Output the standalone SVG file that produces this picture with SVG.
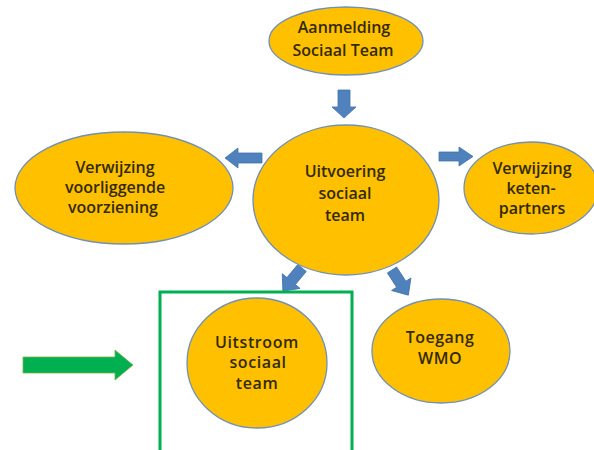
<svg xmlns="http://www.w3.org/2000/svg" width="594" height="450" viewBox="0 0 594 450">
  <defs>
    <style>
      .node { fill: #FFC000; stroke: #7190b4; stroke-width: 1.3; }
      .lbl { font-family: "Open Sans", "Liberation Sans", sans-serif; font-weight: 600; font-size: 16px; fill: #332a00; text-anchor: middle; }
      .arrow { fill: #4f81bd; stroke: #4373aa; stroke-width: 0.8; }
      .green { fill: #00b050; stroke: #7fb048; stroke-width: 0.8; }
    </style>
    <path id="diag" d="M0,-5.5 L17,-5.5 L17,-11.5 L30,0 L17,11.5 L17,5.5 L0,5.5 Z"/>
  </defs>
  <rect width="594" height="450" fill="#ffffff"/>

  <g id="connectors">
    <polygon class="arrow" points="338,90 350,90 350,107 356,107 344,118 332,107 338,107"/>
    <polygon class="arrow" points="262,153 262,163 238,163 238,168 225,158 238,148 238,153"/>
    <polygon class="arrow" points="439,152 459,152 459,147 473,156.5 459,166 459,161 439,161"/>
    <use href="#diag" class="arrow" transform="translate(302,268) rotate(129.6)"/>
    <use href="#diag" class="arrow" transform="translate(392,270) rotate(57)"/>
  </g>

  <g id="aanmelding">
    <ellipse class="node" cx="346" cy="41" rx="77" ry="34"/>
    <text class="lbl" x="344" y="33" font-size="16.5">Aanmelding</text>
    <text class="lbl" x="343" y="56" font-size="16.5">Sociaal Team</text>
  </g>

  <g id="uitvoering">
    <ellipse class="node" cx="346" cy="200" rx="93" ry="75"/>
    <text class="lbl" x="345" y="177" font-size="17">Uitvoering</text>
    <text class="lbl" x="345" y="199" font-size="17">sociaal</text>
    <text class="lbl" x="345" y="221" font-size="17">team</text>
  </g>

  <g id="verwijzing-voorliggende">
    <ellipse class="node" cx="124" cy="188" rx="109" ry="56"/>
    <text class="lbl" x="115" y="173" font-size="15.5">Verwijzing</text>
    <text class="lbl" x="115" y="193" font-size="15.5">voorliggende</text>
    <text class="lbl" x="113" y="213" font-size="15.5">voorziening</text>
  </g>

  <g id="verwijzing-ketenpartners">
    <ellipse class="node" cx="531" cy="188" rx="67" ry="46"/>
    <text class="lbl" x="532" y="174" font-size="15.5">Verwijzing</text>
    <text class="lbl" x="531" y="194" font-size="15.5">keten-</text>
    <text class="lbl" x="532" y="214" font-size="15.5">partners</text>
  </g>

  <g id="uitstroom">
    <ellipse class="node" cx="257" cy="363" rx="70" ry="65"/>
    <text class="lbl" x="257" y="348" font-size="15.5" letter-spacing="0.6" font-weight="500">Uitstroom</text>
    <text class="lbl" x="258" y="368" font-size="15.5" letter-spacing="0.6" font-weight="500">sociaal</text>
    <text class="lbl" x="257" y="389" font-size="15.5" letter-spacing="0.6" font-weight="500">team</text>
  </g>

  <g id="toegang-wmo">
    <ellipse class="node" cx="441" cy="351" rx="69" ry="52"/>
    <text class="lbl" x="440" y="343" font-size="15.5" letter-spacing="0.5">Toegang</text>
    <text class="lbl" x="440" y="364" font-size="15.5" letter-spacing="0.5">WMO</text>
  </g>

  <g id="highlight">
    <rect x="160" y="292" width="192" height="170" fill="none" stroke="#00b050" stroke-width="3"/>
    <polygon class="green" points="23,357 115,357 115,350 133,365 115,380 115,373 23,373"/>
  </g>
</svg>
